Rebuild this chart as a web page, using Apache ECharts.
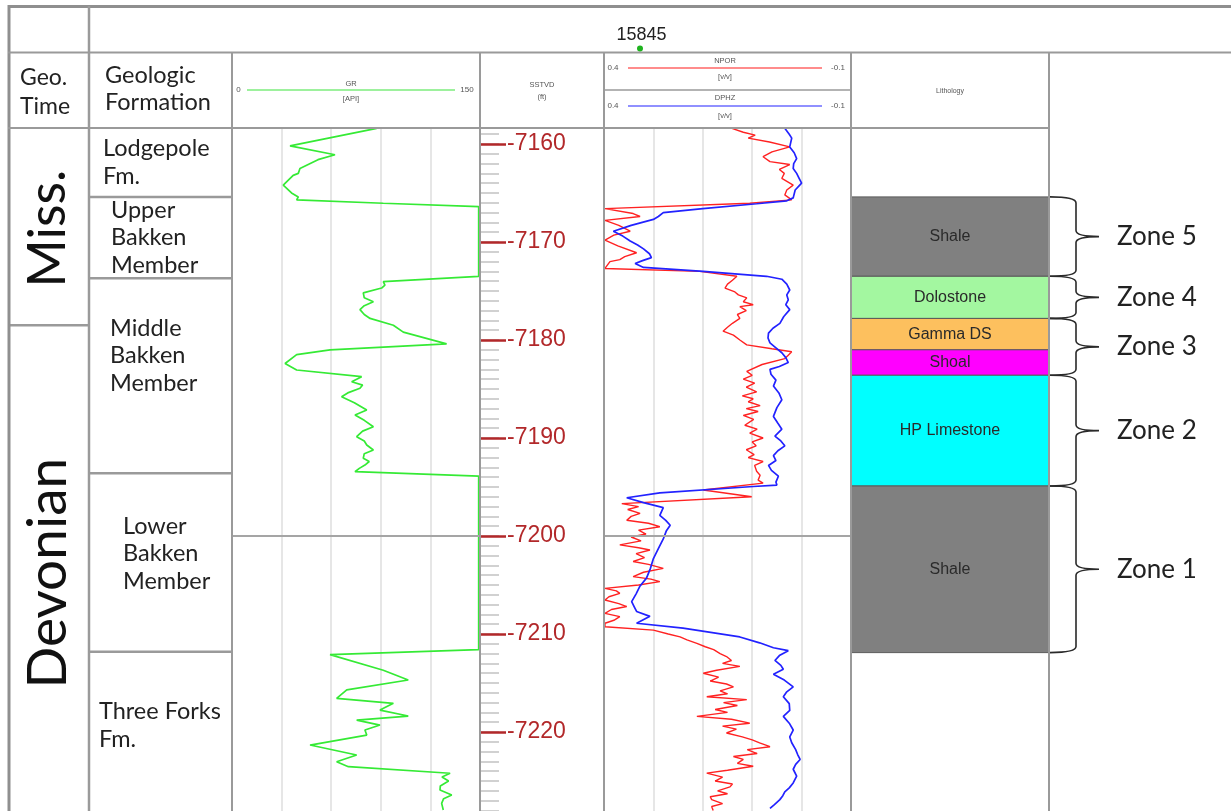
<!DOCTYPE html>
<html>
<head>
<meta charset="utf-8">
<title>Well 15845 – Bakken log panel</title>
<script src="https://cdn.jsdelivr.net/npm/echarts@6/dist/echarts.min.js"></script>
<style>
  html, body { margin: 0; padding: 0; background: #fff; }
  #chart { width: 1231px; height: 811px; }
</style>
</head>
<body>
<div id="chart"></div>
<script>
// ---- depth window (SSTVD, ft; drawn as negative labels) ----
const depthMin = 7158.37;
const depthMax = 7228.06;
const wellName = '15845';

// ---- chronostratigraphy ----
const periodNames = ['Miss.', 'Devonian'];
const periodTops  = [depthMin, 7178.5];
const periodBases = [7178.5, depthMax];

// ---- formations / members ----
const fmNames = ['Lodgepole\nFm.', 'Upper\nBakken\nMember', 'Middle\nBakken\nMember', 'Lower\nBakken\nMember', 'Three Forks\nFm.'];
const fmTops  = [depthMin, 7165.4, 7173.7, 7193.6, 7211.8];
const fmBases = [7165.4, 7173.7, 7193.6, 7211.8, depthMax];

// ---- lithology column ----
const lithNames = ['Shale', 'Dolostone', 'Gamma DS', 'Shoal', 'HP Limestone', 'Shale'];
const lithTops  = [7165.4, 7173.5, 7177.8, 7181.0, 7183.6, 7194.9];
const lithBases = [7173.5, 7177.8, 7181.0, 7183.6, 7194.9, 7211.9];

// ---- reservoir zones ----
const zoneNames = ['Zone 5', 'Zone 4', 'Zone 3', 'Zone 2', 'Zone 1'];
const zoneTops  = [7165.4, 7173.5, 7177.8, 7183.6, 7194.9];
const zoneBases = [7173.5, 7177.8, 7183.6, 7194.9, 7211.9];

// ---- gamma ray [API]: [depth, value] ----
const grLog = [
  [7158.4, 87.5], [7160.2, 35.1], [7161.1, 62.3], [7161.6, 52.0], [7162.5, 41.1], [7163.0, 40.1], [7163.2, 37.0],
  [7164.2, 31.0], [7165.0, 36.0], [7165.4, 40.1], [7165.7, 39.1], [7166.05, 91.5], [7166.4, 149.2],
  [7173.5, 149.2], [7174.05, 91.5], [7174.4, 92.5], [7174.7, 90.5], [7175.2, 79.4], [7175.7, 80.0], [7176.1, 85.5],
  [7176.5, 80.0], [7176.9, 77.4], [7177.4, 80.0], [7177.8, 83.5], [7178.5, 97.6], [7179.2, 103.6], [7180.4, 129.8],
  [7181.0, 59.3], [7181.5, 39.1], [7182.4, 32.1], [7183.06, 39.1], [7183.74, 78.4], [7184.26, 72.4], [7184.6, 79.0],
  [7184.93, 77.4], [7185.4, 70.0], [7185.79, 66.3], [7186.4, 74.0], [7187.14, 81.5], [7187.65, 74.4], [7188.2, 80.0],
  [7188.85, 85.5], [7189.3, 79.0], [7189.87, 75.4], [7190.3, 80.0], [7190.71, 81.5], [7191.22, 85.5], [7191.6, 80.0],
  [7192.07, 79.4], [7192.4, 83.0], [7192.76, 80.4], [7193.1, 77.0], [7193.44, 74.4], [7193.9, 149.2],
  [7211.6, 149.2], [7212.1, 59.3], [7213.7, 91.5], [7214.69, 106.6], [7215.71, 69.4], [7216.56, 63.3], [7217.07, 97.6],
  [7217.76, 89.5], [7218.37, 106.6], [7218.78, 75.4], [7219.29, 89.5], [7219.8, 80.4], [7220.31, 81.5], [7221.33, 47.2],
  [7222.35, 75.4], [7223.03, 63.3], [7223.54, 70.4], [7224.21, 131.9], [7224.6, 127.0], [7225.0, 131.0], [7225.5, 126.0],
  [7225.92, 125.8], [7226.43, 132.9], [7226.8, 128.0], [7227.28, 126.8], [7227.96, 127.8]
];

// ---- neutron porosity NPOR [v/v]: [depth, value] ----
const nporLog = [
  [7158.4, 0.141], [7158.8, 0.118], [7159.1, 0.094], [7159.4, 0.108], [7159.8, 0.065], [7160.3, 0.024], [7160.8, 0.060],
  [7161.3, 0.078], [7161.8, 0.064], [7162.1, 0.024], [7162.6, 0.045], [7163.0, 0.035], [7163.5, 0.040], [7164.2, 0.017],
  [7164.7, 0.030], [7165.2, 0.034], [7165.7, 0.020], [7166.05, 0.105], [7166.6, 0.398], [7167.1, 0.341], [7167.4, 0.327],
  [7167.8, 0.398], [7168.3, 0.370], [7168.9, 0.347], [7169.3, 0.380], [7169.8, 0.398], [7170.4, 0.372], [7171.1, 0.334],
  [7171.5, 0.358], [7171.8, 0.368], [7172.0, 0.388], [7172.7, 0.398], [7173.0, 0.206], [7173.5, 0.131], [7173.9, 0.140],
  [7174.3, 0.150], [7174.7, 0.155], [7175.1, 0.135], [7175.4, 0.128], [7175.7, 0.111], [7176.1, 0.118], [7176.4, 0.098],
  [7176.6, 0.125], [7177.0, 0.112], [7177.4, 0.130], [7177.8, 0.125], [7178.3, 0.140], [7178.7, 0.150], [7179.1, 0.159],
  [7179.5, 0.138], [7180.0, 0.125], [7180.5, 0.111], [7180.9, 0.060], [7181.2, 0.020], [7181.6, 0.028], [7181.9, 0.034],
  [7182.5, 0.080], [7183.2, 0.111], [7183.6, 0.100], [7184.0, 0.118], [7184.4, 0.095], [7184.8, 0.112], [7185.3, 0.091],
  [7185.7, 0.120], [7186.0, 0.098], [7186.3, 0.108], [7186.7, 0.084], [7187.0, 0.112], [7187.3, 0.088], [7187.7, 0.118],
  [7188.1, 0.097], [7188.7, 0.115], [7189.1, 0.090], [7189.5, 0.105], [7190.0, 0.078], [7190.4, 0.100], [7190.8, 0.092],
  [7191.2, 0.112], [7191.7, 0.096], [7192.0, 0.108], [7192.4, 0.078], [7192.8, 0.095], [7193.4, 0.091], [7193.8, 0.084],
  [7194.3, 0.088], [7194.6, 0.078], [7195.3, 0.199], [7196.0, 0.101], [7196.7, 0.364], [7197.0, 0.330], [7197.3, 0.352],
  [7197.7, 0.327], [7198.0, 0.345], [7198.4, 0.354], [7198.7, 0.310], [7199.05, 0.287], [7199.4, 0.330], [7199.8, 0.315],
  [7200.1, 0.345], [7200.5, 0.325], [7200.9, 0.368], [7201.2, 0.330], [7201.43, 0.307], [7201.8, 0.335], [7202.2, 0.318],
  [7202.6, 0.341], [7202.9, 0.310], [7203.3, 0.280], [7203.7, 0.320], [7204.15, 0.341], [7204.4, 0.305], [7204.66, 0.287],
  [7205.0, 0.330], [7205.34, 0.398], [7205.6, 0.375], [7205.85, 0.368], [7206.2, 0.390], [7206.53, 0.398], [7206.9, 0.370],
  [7207.2, 0.354], [7207.5, 0.385], [7207.89, 0.398], [7208.23, 0.368], [7208.6, 0.380], [7208.9, 0.398], [7209.26, 0.398],
  [7209.6, 0.300], [7210.0, 0.270], [7210.3, 0.246], [7210.6, 0.232], [7210.95, 0.212], [7211.3, 0.195], [7211.6, 0.178],
  [7212.0, 0.165], [7212.3, 0.152], [7212.7, 0.142], [7213.0, 0.160], [7213.3, 0.125], [7213.7, 0.172], [7214.0, 0.199],
  [7214.4, 0.168], [7214.8, 0.185], [7215.1, 0.152], [7215.4, 0.138], [7215.8, 0.165], [7216.1, 0.150], [7216.4, 0.192],
  [7216.7, 0.111], [7217.0, 0.158], [7217.3, 0.130], [7217.7, 0.175], [7218.0, 0.150], [7218.4, 0.212], [7218.7, 0.142],
  [7219.1, 0.105], [7219.4, 0.160], [7219.7, 0.132], [7220.1, 0.152], [7220.5, 0.120], [7220.8, 0.100], [7221.1, 0.085],
  [7221.5, 0.064], [7221.8, 0.110], [7222.2, 0.090], [7222.5, 0.138], [7222.8, 0.118], [7223.2, 0.130], [7223.5, 0.098],
  [7223.9, 0.150], [7224.2, 0.192], [7224.6, 0.160], [7225.0, 0.175], [7225.3, 0.140], [7225.6, 0.145], [7226.0, 0.170],
  [7226.3, 0.150], [7226.6, 0.185], [7226.9, 0.182], [7227.3, 0.160], [7227.6, 0.182], [7228.0, 0.179]
];

// ---- density porosity DPHZ [v/v]: [depth, value] ----
const dphzLog = [
  [7158.4, 0.034], [7159.0, 0.025], [7159.4, 0.020], [7160.3, 0.024], [7160.9, 0.015], [7161.5, 0.010], [7162.0, 0.016],
  [7162.5, 0.017], [7163.0, 0.010], [7163.5, 0.005], [7164.0, 0.000], [7164.7, 0.013], [7165.5, 0.017], [7165.8, 0.030],
  [7166.1, 0.091], [7166.6, 0.200], [7167.0, 0.280], [7167.4, 0.290], [7167.7, 0.300], [7168.3, 0.345], [7168.9, 0.381],
  [7169.4, 0.362], [7169.9, 0.347], [7170.3, 0.332], [7170.7, 0.320], [7171.2, 0.308], [7171.6, 0.304], [7171.9, 0.322],
  [7172.2, 0.337], [7172.6, 0.320], [7173.0, 0.199], [7173.5, 0.071], [7173.8, 0.040], [7174.3, 0.030], [7174.9, 0.024],
  [7175.4, 0.030], [7175.9, 0.027], [7176.4, 0.032], [7176.9, 0.024], [7177.6, 0.036], [7178.3, 0.044], [7178.8, 0.058],
  [7179.3, 0.067], [7179.8, 0.068], [7180.3, 0.064], [7180.8, 0.052], [7181.3, 0.040], [7181.8, 0.032], [7182.3, 0.027],
  [7182.7, 0.045], [7183.0, 0.064], [7183.5, 0.062], [7184.1, 0.052], [7184.7, 0.057], [7185.4, 0.046], [7186.1, 0.040],
  [7186.9, 0.050], [7187.8, 0.057], [7188.5, 0.048], [7189.1, 0.040], [7189.8, 0.054], [7190.3, 0.042], [7190.8, 0.034],
  [7191.3, 0.048], [7191.8, 0.057], [7192.3, 0.052], [7192.8, 0.067], [7193.3, 0.061], [7193.9, 0.047], [7194.5, 0.052],
  [7194.8, 0.050], [7194.95, 0.098], [7195.6, 0.287], [7196.1, 0.354], [7196.6, 0.320], [7197.1, 0.280], [7197.9, 0.287],
  [7198.4, 0.275], [7198.9, 0.266], [7199.5, 0.274], [7200.3, 0.280], [7201.3, 0.290], [7202.3, 0.300], [7203.3, 0.306],
  [7204.3, 0.314], [7205.1, 0.327], [7205.9, 0.335], [7206.7, 0.344], [7207.3, 0.338], [7207.7, 0.334], [7208.2, 0.307],
  [7208.9, 0.334], [7209.4, 0.240], [7210.3, 0.125], [7210.9, 0.085], [7211.4, 0.057], [7211.7, 0.027], [7212.2, 0.045],
  [7212.7, 0.054], [7213.2, 0.042], [7213.6, 0.037], [7214.1, 0.057], [7214.7, 0.035], [7215.4, 0.017], [7215.9, 0.030],
  [7216.4, 0.037], [7217.1, 0.025], [7217.8, 0.024], [7218.4, 0.037], [7219.1, 0.025], [7219.8, 0.017], [7220.5, 0.024],
  [7221.1, 0.020], [7221.8, 0.012], [7222.3, 0.008], [7222.8, 0.003], [7223.3, 0.012], [7223.8, 0.017], [7224.5, 0.010],
  [7225.2, 0.017], [7225.7, 0.025], [7226.1, 0.034], [7226.5, 0.038], [7226.9, 0.044], [7227.4, 0.055], [7227.8, 0.064]
];

// ---- styling / layout ----
const lithColors = { 'Shale': '#808080', 'Dolostone': '#a3f7a0', 'Gamma DS': '#fdc05e', 'Shoal': '#ff00ff', 'HP Limestone': '#00ffff' };
const fmLabelLayout = [ { x: 103, dy: 0 }, { x: 111, dy: 0 }, { x: 110, dy: -20 }, { x: 123, dy: -9 }, { x: 99, dy: -6 } ];
const border = '#9a9a9a';
const depthRed = '#b2282a';
const calibriLike = 'Lato';

const TOP = 128, H = 683;
const pxPerFt = H / (depthMax - depthMin);
const yOf = d => TOP + (d - depthMin) * pxPerFt;

const chart = echarts.init(document.getElementById('chart'));

function depthY(gridIndex) {
  return { type: 'value', gridIndex, inverse: true, min: depthMin, max: depthMax, show: false };
}
function unitX(gridIndex) {
  return { type: 'value', gridIndex, min: 0, max: 1, show: false };
}
const gridLine = { show: true, lineStyle: { color: '#dedede', width: 1.5 } };
const line7200 = {
  silent: true, symbol: ['none', 'none'], label: { show: false }, animation: false,
  lineStyle: { color: '#a5a5a5', width: 2, type: 'solid' }, data: [{ yAxis: 7200 }]
};

function hLine(x1, y1, x2, y2, w, color) {
  return { type: 'line', silent: true, z: 100, shape: { x1, y1, x2, y2 }, style: { stroke: color || border, lineWidth: w } };
}
function tiny(text, x, y, size) {
  return { type: 'text', silent: true, z: 100, x, y,
    style: { text, fontSize: size || 7.5, fontFamily: 'Liberation Sans', fill: '#555', align: 'center', verticalAlign: 'middle' } };
}

const option = {
  animation: false,
  backgroundColor: '#fff',
  grid: [
    { left: 8,    top: TOP, width: 81,  height: H },            // geologic time
    { left: 89,   top: TOP, width: 143, height: H },            // formation
    { left: 232,  top: TOP, width: 248, height: H },            // GR
    { left: 480,  top: yOf(7159), width: 124, height: yOf(7228) - yOf(7159) },  // depth: 1 ft ticks
    { left: 480,  top: yOf(7160), width: 124, height: yOf(7220) - yOf(7160) },  // depth: 10 ft ticks + labels
    { left: 604,  top: TOP, width: 247, height: H },            // porosity
    { left: 851,  top: TOP, width: 198, height: H },            // lithology
    { left: 1049, top: TOP, width: 182, height: H }             // zones
  ],
  xAxis: [
    unitX(0), unitX(1),
    { type: 'value', gridIndex: 2, min: 0, max: 150, interval: 30,
      axisLine: { show: false }, axisTick: { show: false }, axisLabel: { show: false }, splitLine: gridLine },
    unitX(3), unitX(4),
    { type: 'value', gridIndex: 5, min: -0.1, max: 0.4, interval: 0.1, inverse: true,
      axisLine: { show: false }, axisTick: { show: false }, axisLabel: { show: false }, splitLine: gridLine },
    unitX(6), unitX(7)
  ],
  yAxis: [
    depthY(0), depthY(1), depthY(2),
    { type: 'value', gridIndex: 3, inverse: true, min: 7159, max: 7228, interval: 1, position: 'left',
      axisLine: { show: false, onZero: false }, axisLabel: { show: false }, splitLine: { show: false },
      axisTick: { show: true, inside: true, length: 19, lineStyle: { color: '#c2c2c2', width: 1.5 } } },
    { type: 'value', gridIndex: 4, inverse: true, min: 7160, max: 7220, interval: 10, position: 'left',
      axisLine: { show: false, onZero: false }, splitLine: { show: false },
      axisTick: { show: true, inside: true, length: 26, lineStyle: { color: depthRed, width: 2.5 } },
      axisLabel: { show: true, inside: true, margin: 27, color: depthRed, fontSize: 23,
        fontFamily: 'Liberation Sans', formatter: v => '-' + v } },
    depthY(5), depthY(6), depthY(7)
  ],
  series: [
    { // geologic time column
      type: 'custom', xAxisIndex: 0, yAxisIndex: 0, silent: true,
      data: periodNames.map((n, i) => [0, periodTops[i], periodBases[i]]),
      renderItem(params, api) {
        const i = params.dataIndex, cs = params.coordSys;
        const y0 = api.coord([0, api.value(1)])[1], y1 = api.coord([0, api.value(2)])[1];
        const kids = [{ type: 'text', x: cs.x + cs.width / 2, y: (y0 + y1) / 2 + (i === 0 ? 2 : 5), rotation: Math.PI / 2,
          style: { text: periodNames[i], fontSize: i === 0 ? 52 : 55, fontFamily: calibriLike, fill: '#111', align: 'center', verticalAlign: 'middle' } }];
        if (i < periodNames.length - 1) {
          kids.push({ type: 'line', shape: { x1: cs.x, y1: y1, x2: cs.x + cs.width, y2: y1 }, style: { stroke: border, lineWidth: 2.5 } });
        }
        return { type: 'group', children: kids };
      }
    },
    { // formation column
      type: 'custom', xAxisIndex: 1, yAxisIndex: 1, silent: true,
      data: fmNames.map((n, i) => [0, fmTops[i], fmBases[i]]),
      renderItem(params, api) {
        const i = params.dataIndex, cs = params.coordSys;
        const y0 = api.coord([0, api.value(1)])[1], y1 = api.coord([0, api.value(2)])[1];
        const lay = fmLabelLayout[i];
        const kids = [{ type: 'text', x: lay.x, y: (y0 + y1) / 2 + lay.dy,
          style: { text: fmNames[i], fontSize: 23.5, lineHeight: 27.5, fontFamily: calibriLike, fill: '#222', align: 'left', verticalAlign: 'middle' } }];
        if (i < fmNames.length - 1) {
          kids.push({ type: 'line', shape: { x1: cs.x, y1: y1, x2: cs.x + cs.width, y2: y1 }, style: { stroke: border, lineWidth: 2.5 } });
        }
        return { type: 'group', children: kids };
      }
    },
    { name: 'GR', type: 'line', xAxisIndex: 2, yAxisIndex: 2, symbol: 'none', showSymbol: false,
      data: grLog.map(([d, v]) => [v, d]), lineStyle: { color: '#35ea35', width: 1.7 }, markLine: line7200 },
    { name: 'NPOR', type: 'line', xAxisIndex: 5, yAxisIndex: 5, symbol: 'none', showSymbol: false,
      data: nporLog.map(([d, v]) => [v, d]), lineStyle: { color: '#ff2222', width: 1.4 }, markLine: line7200 },
    { name: 'DPHZ', type: 'line', xAxisIndex: 5, yAxisIndex: 5, symbol: 'none', showSymbol: false,
      data: dphzLog.map(([d, v]) => [v, d]), lineStyle: { color: '#2222ff', width: 1.7 } },
    { // lithology column
      type: 'custom', xAxisIndex: 6, yAxisIndex: 6, silent: true,
      data: lithNames.map((n, i) => [0, lithTops[i], lithBases[i]]),
      renderItem(params, api) {
        const i = params.dataIndex, cs = params.coordSys;
        const y0 = api.coord([0, api.value(1)])[1], y1 = api.coord([0, api.value(2)])[1];
        return { type: 'group', children: [
          { type: 'rect', shape: { x: cs.x, y: y0, width: cs.width, height: y1 - y0 },
            style: { fill: lithColors[lithNames[i]], stroke: '#5a5a5a', lineWidth: 1 } },
          { type: 'text', x: cs.x + cs.width / 2, y: (y0 + y1) / 2,
            style: { text: lithNames[i], fontSize: 16, fontFamily: 'Liberation Sans', fill: '#2a2a2a', align: 'center', verticalAlign: 'middle' } }
        ] };
      }
    },
    { // zone braces and labels
      type: 'custom', xAxisIndex: 7, yAxisIndex: 7, silent: true,
      data: zoneNames.map((n, i) => [0, zoneTops[i], zoneBases[i]]),
      renderItem(params, api) {
        const i = params.dataIndex, cs = params.coordSys;
        const y0 = api.coord([0, api.value(1)])[1], y1 = api.coord([0, api.value(2)])[1];
        const x0 = cs.x + 1, xs = cs.x + 27, xt = cs.x + 50, ym = (y0 + y1) / 2, r = 6;
        const d = `M${x0} ${y0} Q${xs} ${y0} ${xs} ${y0 + r} L${xs} ${ym - r} Q${xs} ${ym} ${xt} ${ym} ` +
                  `Q${xs} ${ym} ${xs} ${ym + r} L${xs} ${y1 - r} Q${xs} ${y1} ${x0} ${y1}`;
        return { type: 'group', children: [
          { type: 'path', shape: { pathData: d }, style: { stroke: '#2a2a2a', fill: 'none', lineWidth: 1.6 } },
          { type: 'text', x: cs.x + 68, y: ym,
            style: { text: zoneNames[i], fontSize: 26, fontFamily: calibriLike, fill: '#222', align: 'left', verticalAlign: 'middle' } }
        ] };
      }
    }
  ],
  graphic: [
    // table frame
    hLine(8, 6.5, 1231, 6.5, 3, '#8f8f8f'),
    hLine(9, 5, 9, 811, 3, '#8f8f8f'),
    hLine(89, 6, 89, 811, 2.5),
    hLine(8, 52.5, 1231, 52.5, 2),
    hLine(8, 128, 1049, 128, 2),
    hLine(232, 52, 232, 811, 2),
    hLine(480, 52, 480, 811, 2),
    hLine(604, 52, 604, 811, 2),
    hLine(851, 52, 851, 811, 2),
    hLine(1049, 52, 1049, 811, 2),
    hLine(604, 90, 851, 90, 1.5),
    // title row
    { type: 'text', silent: true, z: 100, x: 641.5, y: 35,
      style: { text: wellName, fontSize: 18, fontFamily: 'Liberation Sans', fill: '#222', align: 'center', verticalAlign: 'middle' } },
    { type: 'circle', silent: true, z: 100, shape: { cx: 640, cy: 48.5, r: 3 }, style: { fill: '#1fb31f' } },
    // column headers
    { type: 'text', silent: true, z: 100, x: 20, y: 92,
      style: { text: 'Geo.\nTime', fontSize: 23, lineHeight: 28.5, fontFamily: calibriLike, fill: '#222', align: 'left', verticalAlign: 'middle' } },
    { type: 'text', silent: true, z: 100, x: 105, y: 89,
      style: { text: 'Geologic\nFormation', fontSize: 23.5, lineHeight: 27, fontFamily: calibriLike, fill: '#222', align: 'left', verticalAlign: 'middle' } },
    tiny('0', 238.5, 90, 8),
    hLine(247, 90, 455, 90, 1.5, '#7ced7c'),
    tiny('150', 467, 90, 8),
    tiny('GR', 351, 84), tiny('[API]', 351, 99),
    tiny('SSTVD', 542, 85), tiny('(ft)', 542, 97),
    tiny('0.4', 613, 68, 8), hLine(628, 68, 822, 68, 2, '#ff8c8c'), tiny('-0.1', 838, 68, 8),
    tiny('NPOR', 725, 61), tiny('[v/v]', 725, 77),
    tiny('0.4', 613, 106, 8), hLine(628, 106, 822, 106, 2, '#9090ff'), tiny('-0.1', 838, 106, 8),
    tiny('DPHZ', 725, 98), tiny('[v/v]', 725, 116),
    tiny('Lithology', 950, 91, 7)
  ]
};

chart.setOption(option);
</script>
</body>
</html>
